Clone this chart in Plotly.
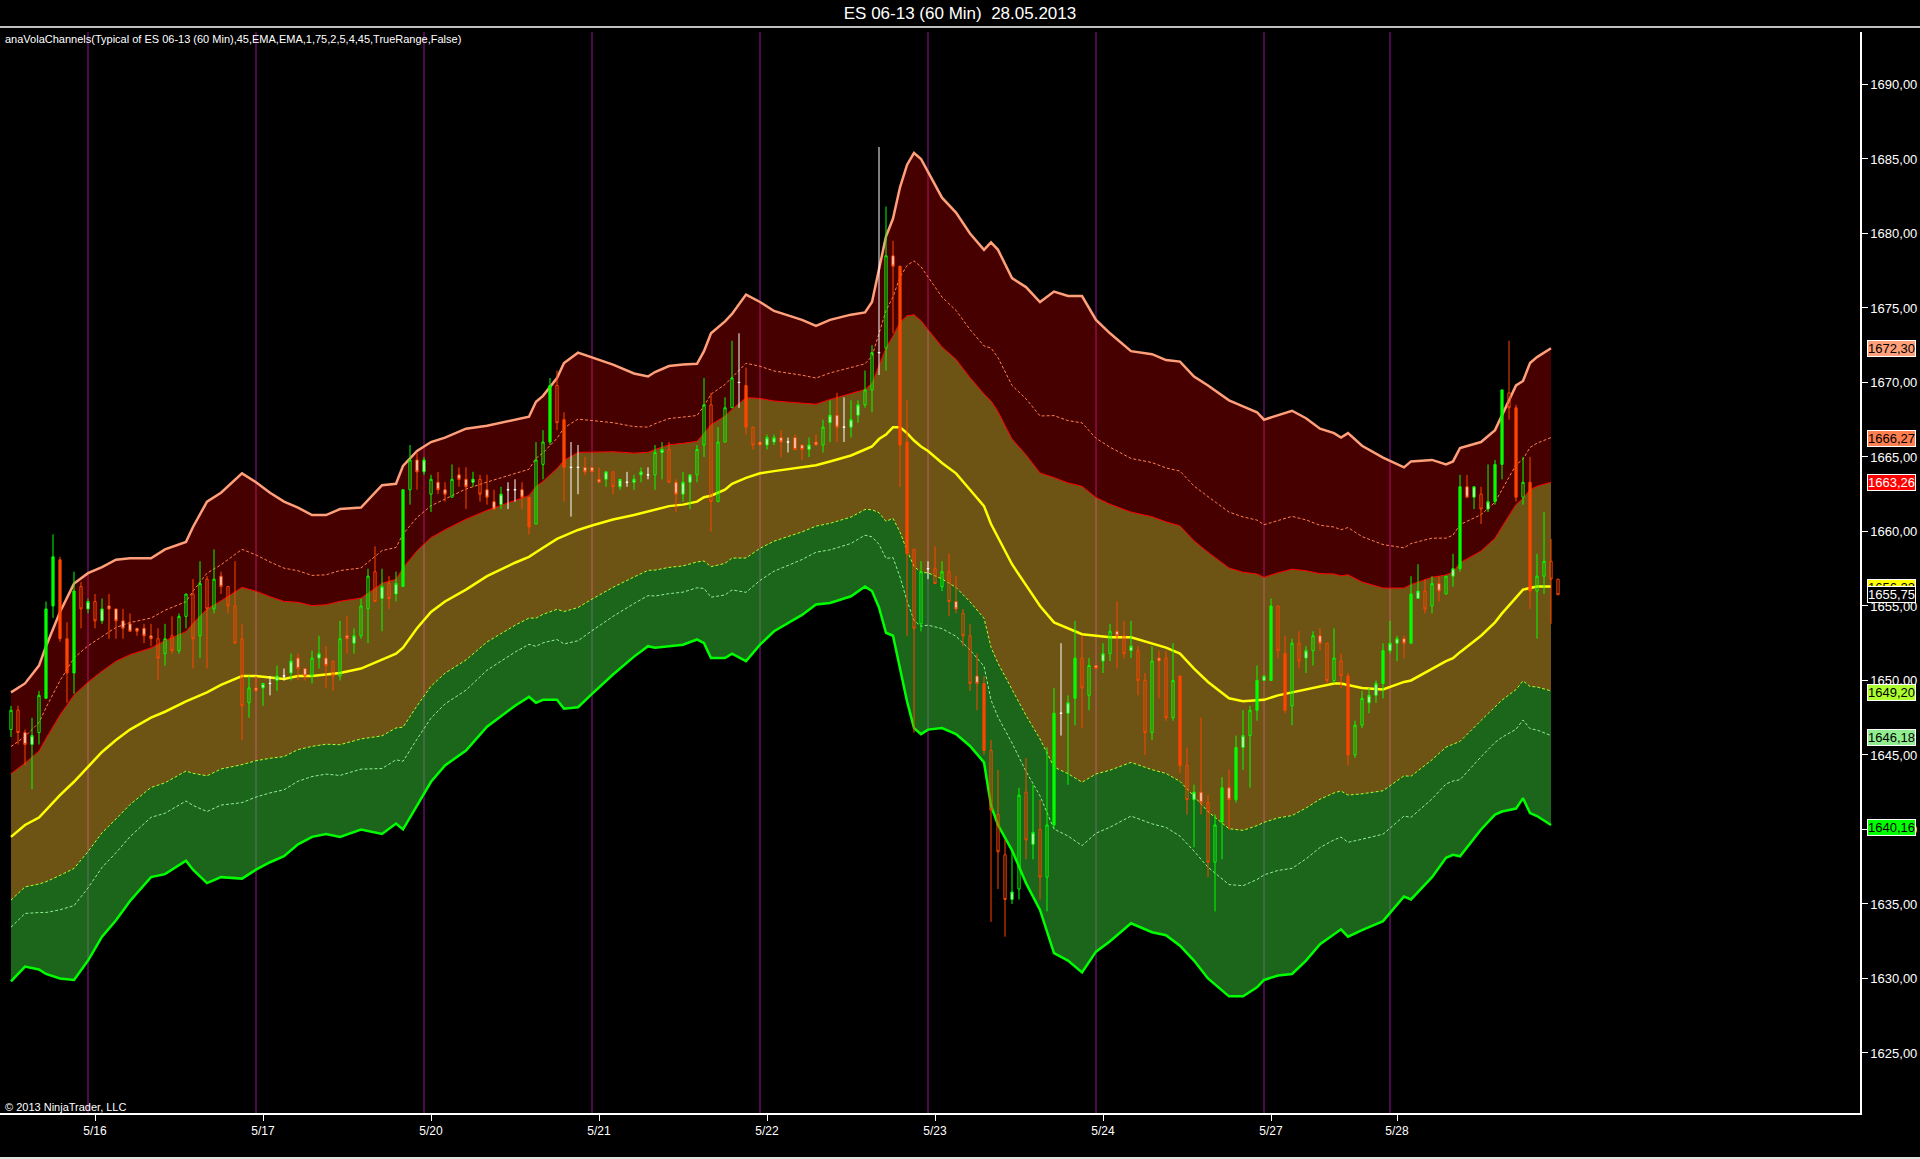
import plotly.graph_objects as go

title_text = "ES 06-13 (60 Min)  28.05.2013"
indicator_text = "anaVolaChannels(Typical of ES 06-13 (60 Min),45,EMA,EMA,1,75,2,5,4,45,TrueRange,False)"
copyright_text = "© 2013 NinjaTrader, LLC"

# hourly bars
bar_open = [1646.7, 1648.0, 1646.5, 1645.7, 1646.5, 1648.8, 1655.0, 1658.1, 1652.8, 1650.5,
            1656.3, 1654.8, 1655.3, 1654.0, 1655.0, 1654.8, 1654.0, 1653.8, 1653.5, 1653.5,
            1653.0, 1652.8, 1651.8, 1653.0, 1652.0, 1654.3, 1655.8, 1653.0, 1656.8, 1654.8,
            1657.0, 1656.3, 1655.0, 1652.8, 1648.5, 1649.5, 1649.5, 1649.8, 1650.0, 1650.3,
            1650.5, 1651.5, 1650.8, 1650.3, 1651.5, 1651.5, 1651.3, 1650.3, 1653.0, 1652.5,
            1653.0, 1654.8, 1657.3, 1655.5, 1656.5, 1655.8, 1656.3, 1662.8, 1664.8, 1664.0,
            1662.5, 1663.3, 1662.8, 1662.3, 1663.8, 1663.5, 1663.3, 1663.5, 1662.8, 1662.0,
            1661.8, 1662.8, 1662.8, 1662.8, 1662.3, 1660.5, 1664.5, 1666.0, 1669.8, 1667.5,
            1664.3, 1664.3, 1664.3, 1664.3, 1663.5, 1663.5, 1664.0, 1663.0, 1663.3, 1663.3,
            1663.8, 1663.8, 1663.8, 1665.3, 1665.5, 1663.3, 1662.5, 1663.3, 1663.8, 1665.8,
            1668.5, 1662.0, 1666.0, 1668.3, 1670.0, 1669.8, 1667.0, 1666.0, 1665.8, 1666.0,
            1666.3, 1666.0, 1666.3, 1665.8, 1665.5, 1666.0, 1665.8, 1667.3, 1667.8, 1667.0,
            1667.0, 1667.8, 1668.5, 1669.5, 1672.0, 1672.3, 1678.5, 1677.8, 1666.0, 1658.8,
            1653.8, 1657.5, 1657.5, 1656.3, 1657.3, 1655.3, 1654.5, 1653.0, 1650.3, 1649.8,
            1645.3, 1641.0, 1638.3, 1635.3, 1636.0, 1642.5, 1639.0, 1640.0, 1636.8, 1640.3,
            1647.8, 1647.8, 1648.8, 1651.5, 1649.0, 1651.0, 1651.3, 1651.8, 1653.3, 1653.0,
            1652.0, 1652.0, 1650.0, 1646.5, 1651.5, 1651.5, 1647.5, 1650.3, 1644.3, 1642.0,
            1642.5, 1641.8, 1637.8, 1640.5, 1642.8, 1642.0, 1645.5, 1646.3, 1648.0, 1650.0,
            1650.0, 1655.0, 1651.8, 1648.3, 1652.5, 1651.5, 1652.0, 1653.0, 1652.5, 1650.0,
            1651.3, 1650.3, 1645.0, 1647.0, 1648.5, 1649.0, 1649.8, 1652.0, 1652.5, 1652.8,
            1652.5, 1655.5, 1656.0, 1655.0, 1656.5, 1655.8, 1657.0, 1657.5, 1663.0, 1662.3,
            1662.5, 1661.5, 1662.0, 1664.5, 1669.3, 1668.3, 1662.3, 1663.3, 1656.0, 1657.0,
            1658.0, 1656.8]
bar_high = [1648.3, 1648.3, 1646.7, 1647.5, 1649.3, 1655.3, 1659.8, 1658.3, 1653.9, 1657.3,
            1656.6, 1655.5, 1655.8, 1655.5, 1655.8, 1654.8, 1654.8, 1654.5, 1653.5, 1653.8,
            1653.8, 1653.5, 1653.8, 1654.3, 1654.5, 1655.8, 1656.8, 1658.0, 1657.0, 1658.8,
            1657.3, 1656.3, 1658.0, 1653.8, 1650.3, 1650.3, 1649.8, 1650.3, 1651.0, 1650.8,
            1651.8, 1651.8, 1650.8, 1652.0, 1653.0, 1652.3, 1651.3, 1654.0, 1654.3, 1653.5,
            1655.5, 1657.5, 1659.0, 1657.5, 1657.0, 1657.3, 1662.8, 1665.8, 1665.3, 1665.0,
            1663.8, 1664.0, 1663.3, 1664.5, 1664.3, 1664.3, 1664.0, 1663.8, 1663.8, 1662.8,
            1663.0, 1663.3, 1663.5, 1663.3, 1662.3, 1666.0, 1666.8, 1670.3, 1670.8, 1668.0,
            1666.0, 1665.8, 1665.0, 1664.3, 1664.3, 1664.0, 1664.0, 1663.5, 1664.0, 1663.8,
            1664.3, 1664.3, 1665.8, 1666.0, 1666.0, 1663.5, 1664.0, 1663.8, 1665.8, 1670.3,
            1669.3, 1667.0, 1669.0, 1672.8, 1673.3, 1671.0, 1667.0, 1666.0, 1666.5, 1666.5,
            1666.8, 1666.3, 1666.5, 1665.8, 1666.3, 1666.5, 1667.5, 1668.8, 1669.3, 1669.0,
            1668.8, 1668.8, 1670.8, 1672.5, 1685.8, 1681.8, 1679.5, 1677.8, 1668.8, 1658.8,
            1658.0, 1658.0, 1659.0, 1658.0, 1658.5, 1657.0, 1654.8, 1653.8, 1651.8, 1650.3,
            1646.0, 1644.0, 1639.3, 1638.5, 1642.8, 1644.8, 1643.0, 1642.0, 1645.5, 1649.5,
            1652.5, 1649.0, 1654.0, 1653.0, 1651.5, 1651.0, 1652.5, 1653.8, 1655.3, 1654.0,
            1654.0, 1652.3, 1650.5, 1652.3, 1652.0, 1652.0, 1652.5, 1650.3, 1645.5, 1643.0,
            1647.5, 1642.3, 1641.0, 1643.5, 1644.0, 1646.3, 1648.0, 1648.3, 1651.0, 1650.3,
            1655.5, 1655.0, 1653.0, 1652.8, 1653.3, 1652.3, 1653.3, 1653.5, 1652.5, 1653.5,
            1651.8, 1650.5, 1647.3, 1649.3, 1649.5, 1650.0, 1652.5, 1654.0, 1653.0, 1653.0,
            1657.0, 1657.8, 1656.8, 1657.0, 1657.0, 1657.0, 1658.5, 1663.8, 1663.8, 1663.0,
            1663.0, 1664.5, 1664.8, 1669.5, 1672.8, 1668.5, 1665.0, 1665.0, 1658.5, 1661.3,
            1659.5, 1656.8]
bar_low = [1646.2, 1645.7, 1644.3, 1642.7, 1645.7, 1648.8, 1654.2, 1652.6, 1648.5, 1649.1,
           1653.5, 1654.5, 1653.5, 1653.8, 1652.8, 1652.8, 1652.8, 1653.3, 1653.0, 1652.5,
           1652.3, 1650.0, 1651.0, 1651.8, 1651.8, 1653.5, 1650.8, 1651.5, 1650.8, 1654.5,
           1655.8, 1654.5, 1652.5, 1646.0, 1647.5, 1649.3, 1648.3, 1649.0, 1649.3, 1650.0,
           1650.0, 1650.0, 1650.0, 1649.8, 1650.8, 1649.5, 1649.3, 1650.0, 1651.8, 1651.8,
           1652.8, 1652.5, 1655.3, 1653.3, 1654.8, 1655.3, 1656.3, 1661.8, 1662.8, 1663.8,
           1661.3, 1662.5, 1662.0, 1662.3, 1663.0, 1661.5, 1663.0, 1662.0, 1661.8, 1661.5,
           1661.5, 1661.5, 1662.0, 1661.5, 1659.8, 1660.5, 1663.5, 1665.8, 1666.8, 1662.0,
           1661.0, 1662.5, 1663.8, 1664.0, 1663.3, 1663.0, 1662.5, 1662.8, 1663.0, 1662.8,
           1663.3, 1663.5, 1662.8, 1663.5, 1663.3, 1661.3, 1662.0, 1661.5, 1663.3, 1665.0,
           1660.0, 1662.0, 1666.0, 1668.3, 1668.3, 1666.5, 1665.5, 1665.8, 1665.5, 1665.8,
           1665.0, 1665.3, 1665.5, 1664.8, 1665.0, 1665.8, 1665.3, 1666.0, 1666.0, 1666.0,
           1666.3, 1667.3, 1668.3, 1668.0, 1670.5, 1670.8, 1673.3, 1663.0, 1653.0, 1646.5,
           1653.3, 1656.8, 1656.5, 1656.0, 1654.3, 1654.5, 1652.3, 1649.3, 1648.0, 1645.0,
           1633.8, 1636.0, 1632.8, 1635.0, 1635.3, 1638.0, 1638.0, 1635.3, 1634.5, 1640.0,
           1646.3, 1643.0, 1647.0, 1646.8, 1648.0, 1650.8, 1650.5, 1651.3, 1650.8, 1651.5,
           1651.5, 1649.0, 1645.0, 1646.0, 1648.8, 1647.3, 1647.3, 1643.8, 1641.0, 1638.8,
           1641.0, 1636.8, 1634.5, 1638.0, 1640.0, 1641.8, 1644.0, 1642.8, 1647.3, 1650.0,
           1650.0, 1651.5, 1647.8, 1647.0, 1650.8, 1650.5, 1651.0, 1652.0, 1649.8, 1649.8,
           1649.5, 1644.3, 1644.8, 1646.8, 1647.8, 1648.5, 1648.8, 1651.8, 1651.3, 1651.5,
           1652.5, 1655.5, 1654.5, 1654.5, 1655.3, 1655.8, 1656.3, 1657.3, 1662.3, 1661.5,
           1660.5, 1661.3, 1661.8, 1663.5, 1667.5, 1662.0, 1661.8, 1654.8, 1652.8, 1655.8,
           1653.8, 1655.75]
bar_close = [1648.0, 1646.5, 1645.7, 1646.3, 1649.0, 1654.8, 1658.3, 1652.8, 1650.5, 1656.0,
             1654.8, 1655.3, 1654.0, 1654.8, 1654.8, 1654.0, 1653.5, 1653.3, 1653.3, 1653.0,
             1652.8, 1651.5, 1652.8, 1652.0, 1654.3, 1655.8, 1652.8, 1656.5, 1654.8, 1656.8,
             1656.3, 1655.0, 1652.5, 1648.3, 1649.5, 1649.3, 1649.8, 1649.8, 1650.3, 1650.3,
             1651.3, 1650.8, 1650.3, 1651.5, 1651.8, 1651.0, 1650.3, 1652.8, 1652.8, 1653.0,
             1655.0, 1657.0, 1655.3, 1656.3, 1655.5, 1656.5, 1662.8, 1664.8, 1664.0, 1664.8,
             1663.5, 1662.8, 1662.5, 1663.5, 1663.5, 1663.0, 1663.5, 1662.5, 1662.3, 1661.5,
             1662.5, 1662.8, 1662.8, 1662.3, 1660.3, 1664.8, 1666.0, 1669.8, 1667.3, 1664.3,
             1664.3, 1664.3, 1664.0, 1664.0, 1663.3, 1664.0, 1663.0, 1663.5, 1663.3, 1663.5,
             1664.0, 1663.8, 1665.3, 1665.5, 1663.3, 1662.5, 1663.3, 1663.8, 1665.5, 1668.5,
             1662.0, 1666.0, 1668.3, 1670.3, 1670.0, 1667.0, 1665.8, 1665.8, 1666.3, 1666.3,
             1666.0, 1666.0, 1665.5, 1665.5, 1665.8, 1665.8, 1667.0, 1667.8, 1667.0, 1667.0,
             1667.5, 1668.5, 1669.5, 1672.0, 1672.0, 1678.5, 1677.8, 1665.8, 1658.5, 1653.5,
             1657.3, 1657.5, 1656.5, 1657.3, 1655.3, 1654.8, 1653.0, 1649.8, 1649.8, 1645.3,
             1641.3, 1638.5, 1635.3, 1635.8, 1642.3, 1639.3, 1639.8, 1636.8, 1640.3, 1647.8,
             1647.8, 1648.5, 1651.5, 1649.5, 1651.0, 1650.8, 1651.8, 1653.3, 1653.0, 1651.8,
             1652.3, 1650.0, 1646.5, 1651.3, 1651.3, 1647.5, 1650.0, 1644.3, 1642.0, 1642.5,
             1641.8, 1637.8, 1640.3, 1642.8, 1642.0, 1645.5, 1646.3, 1648.0, 1650.0, 1650.3,
             1655.0, 1652.0, 1648.0, 1652.5, 1651.3, 1652.0, 1653.0, 1652.5, 1650.0, 1651.5,
             1650.3, 1645.0, 1647.0, 1648.8, 1649.0, 1649.8, 1652.0, 1652.5, 1652.8, 1652.5,
             1655.8, 1656.0, 1654.8, 1656.5, 1656.0, 1657.0, 1657.5, 1663.0, 1662.3, 1663.0,
             1661.5, 1662.0, 1664.5, 1669.5, 1668.3, 1662.3, 1663.3, 1656.0, 1657.0, 1658.0,
             1656.8, 1655.75]

# bars painted with a solid body
solid_bars = [5, 6, 7, 8, 9, 56, 74, 77, 79, 105, 127, 128, 139, 149, 152, 167, 173,
              175, 178, 180, 182, 191, 196, 200, 207, 212, 213, 215, 217]

# first bar of each session and its date
session_starts = [11, 35, 59, 83, 107, 131, 155, 179, 197]
session_labels = ["5/16", "5/17", "5/20", "5/21", "5/22", "5/23", "5/24", "5/27", "5/28"]

# volatility channel: outer upper line and middle line, read at these bars
band_bars = [0, 2, 4, 5, 7, 9, 11, 13, 15, 17, 20, 22, 25, 26, 28, 30, 33, 35, 37, 39,
             41, 43, 45, 47, 50, 51, 53, 55, 56, 58, 60, 62, 65, 68, 72, 74, 75, 76, 78, 79,
             81, 83, 86, 89, 91, 92, 94, 96, 98, 99, 100, 102, 103, 105, 107, 109, 113, 115, 117, 120,
             122, 123, 124, 125, 126, 127, 128, 129, 130, 131, 133, 135, 137, 139, 140, 141, 143, 145, 147, 149,
             151, 153, 155, 157, 160, 163, 165, 167, 169, 171, 174, 176, 178, 179, 181, 183, 185, 187, 189, 190,
             191, 193, 196, 199, 200, 203, 205, 206, 207, 210, 212, 213, 215, 216, 217, 218, 220]
band_top = [1649.2, 1649.8, 1651.0, 1652.3, 1654.6, 1656.5, 1657.2, 1657.6, 1658.1, 1658.2,
            1658.2, 1658.8, 1659.3, 1660.3, 1662.0, 1662.6, 1663.9, 1663.3, 1662.6, 1662.0,
            1661.6, 1661.1, 1661.1, 1661.5, 1661.6, 1662.1, 1663.1, 1663.2, 1664.4, 1665.4,
            1666.0, 1666.3, 1666.9, 1667.1, 1667.5, 1667.7, 1668.7, 1669.1, 1670.3, 1671.3,
            1672.0, 1671.7, 1671.2, 1670.6, 1670.4, 1670.7, 1671.1, 1671.2, 1671.25, 1672.1,
            1673.3, 1674.1, 1674.6, 1675.9, 1675.4, 1674.8, 1674.2, 1673.8, 1674.2, 1674.55,
            1674.7, 1675.4, 1677.5, 1679.8, 1681.0, 1683.1, 1684.6, 1685.4, 1685.0, 1684.1,
            1682.4, 1681.4, 1680.0, 1678.9, 1679.4, 1678.9, 1677.0, 1676.4, 1675.4, 1676.1,
            1675.8, 1675.8, 1674.2, 1673.3, 1672.1, 1671.9, 1671.5, 1671.4, 1670.4, 1669.8,
            1668.8, 1668.4, 1668.0, 1667.5, 1667.8, 1668.1, 1667.6, 1666.9, 1666.6, 1666.3,
            1666.6, 1665.75, 1664.95, 1664.3, 1664.7, 1664.8, 1664.5, 1664.7, 1665.6, 1666.0,
            1666.8, 1667.8, 1669.8, 1670.1, 1671.3, 1671.7, 1672.3]
band_mid = [1639.5, 1640.3, 1640.8, 1641.3, 1642.3, 1643.2, 1644.2, 1645.2, 1646.0, 1646.7,
            1647.5, 1647.9, 1648.6, 1648.8, 1649.2, 1649.7, 1650.3, 1650.3, 1650.2, 1650.1,
            1650.3, 1650.3, 1650.4, 1650.5, 1650.8, 1651.0, 1651.4, 1651.8, 1652.2, 1653.5,
            1654.6, 1655.3, 1656.1, 1657.0, 1657.9, 1658.3, 1658.6, 1658.9, 1659.5, 1659.7,
            1660.1, 1660.4, 1660.8, 1661.1, 1661.35, 1661.45, 1661.7, 1661.8, 1662.0, 1662.3,
            1662.4, 1662.8, 1663.2, 1663.6, 1663.9, 1664.05, 1664.3, 1664.45, 1664.7, 1665.1,
            1665.5, 1665.7, 1666.2, 1666.5, 1667.0, 1667.0, 1666.6, 1666.1, 1665.7, 1665.4,
            1664.6, 1663.9, 1662.8, 1661.7, 1660.5, 1659.6, 1657.8, 1656.4, 1655.0, 1653.9,
            1653.5, 1653.1, 1653.0, 1652.9, 1652.9, 1652.5, 1652.2, 1651.8, 1650.8, 1649.9,
            1648.8, 1648.6, 1648.7, 1648.7, 1649.0, 1649.2, 1649.4, 1649.6, 1649.8, 1649.8,
            1649.7, 1649.5, 1649.4, 1649.9, 1650.0, 1650.8, 1651.3, 1651.5, 1651.9, 1653.0,
            1653.9, 1654.5, 1655.6, 1656.1, 1656.2, 1656.3, 1656.3]

# channel multipliers (1,75 / 2,5 / 4) and last values shown on the price scale
mult_inner, mult_mid, mult_outer = 1.75, 2.5, 4.0
last_values = [1672.30, 1666.27, 1663.26, 1656.23, 1655.75, 1649.20, 1646.18, 1640.16]
last_colors = ["#ffa07a", "#ff7f50", "#ff0000", "#ffff00", "#000000", "#adff2f", "#90ee90", "#00ff00"]
last_text = ["black", "black", "white", "black", "white", "black", "black", "black"]

y_ticks = [1625, 1630, 1635, 1640, 1645, 1650, 1655, 1660, 1665, 1670, 1675, 1680, 1685, 1690]

X_RANGE = [-1.571, 264.14]
Y_RANGE = [1620.97, 1693.52]
FONT = "Liberation Sans, Arial, sans-serif"

unit = [(t - m) / mult_outer for t, m in zip(band_top, band_mid)]


def band(k):
    return [m + k * u for m, u in zip(band_mid, unit)]


up_out, up_mid, up_in = band(mult_outer), band(mult_mid), band(mult_inner)
dn_in, dn_mid, dn_out = band(-mult_inner), band(-mult_mid), band(-mult_outer)

fig = go.Figure()

# session separators (under the see-through channel fills)
sx, sy = [], []
for s in session_starts:
    sx += [s, s, None]
    sy += [Y_RANGE[0], Y_RANGE[1], None]
fig.add_trace(go.Scatter(x=sx, y=sy, mode="lines", line=dict(color="#4b0a4b", width=2)))

# filled channel zones
fig.add_trace(go.Scatter(x=band_bars, y=up_out, mode="lines", line=dict(width=0)))
fig.add_trace(go.Scatter(x=band_bars, y=up_in, mode="lines", line=dict(width=0),
                         fill="tonexty", fillcolor="rgba(255,0,0,0.28)"))
fig.add_trace(go.Scatter(x=band_bars, y=dn_in, mode="lines", line=dict(width=0),
                         fill="tonexty", fillcolor="rgba(234,179,43,0.47)"))
fig.add_trace(go.Scatter(x=band_bars, y=dn_out, mode="lines", line=dict(width=0),
                         fill="tonexty", fillcolor="rgba(57,217,57,0.47)"))

# channel lines
fig.add_trace(go.Scatter(x=band_bars, y=up_mid, mode="lines",
                         line=dict(color="#ff7f50", width=1, dash="3px,2px")))
fig.add_trace(go.Scatter(x=band_bars, y=up_in, mode="lines", line=dict(color="#ff0000", width=1)))
fig.add_trace(go.Scatter(x=band_bars, y=dn_in, mode="lines",
                         line=dict(color="#adff2f", width=1, dash="3px,2px")))
fig.add_trace(go.Scatter(x=band_bars, y=dn_mid, mode="lines",
                         line=dict(color="#90ee90", width=1, dash="3px,2px")))
fig.add_trace(go.Scatter(x=band_bars, y=up_out, mode="lines", line=dict(color="#ffa07a", width=2.5)))
fig.add_trace(go.Scatter(x=band_bars, y=dn_out, mode="lines", line=dict(color="#00ff00", width=2.5)))
fig.add_trace(go.Scatter(x=band_bars, y=band_mid, mode="lines", line=dict(color="#ffff00", width=2.5)))

# little pointers of the price scale markers
fig.add_trace(go.Scatter(x=[264.75] * len(last_values), y=last_values, mode="markers",
                         marker=dict(symbol="triangle-left", size=9, color=last_colors,
                                     line=dict(color="white", width=1)),
                         cliponaxis=False))

# candles on an overlay axis so they sit above the filled channel
bars = list(range(len(bar_open)))
doji = [i for i in bars if bar_open[i] == bar_close[i]]
plain = [i for i in bars if i not in doji and i not in solid_bars]
small = [i for i in plain if abs(bar_close[i] - bar_open[i]) < 0.9]
hollow = [i for i in plain if i not in small]
solid = [i for i in solid_bars if i not in doji]


def add_candles(idx, up_line, up_fill, dn_line, dn_fill):
    fig.add_trace(go.Candlestick(
        x=idx,
        open=[bar_open[i] for i in idx], high=[bar_high[i] for i in idx],
        low=[bar_low[i] for i in idx], close=[bar_close[i] for i in idx],
        increasing=dict(line=dict(color=up_line, width=1), fillcolor=up_fill),
        decreasing=dict(line=dict(color=dn_line, width=1), fillcolor=dn_fill),
        xaxis="x2", yaxis="y2", hoverinfo="skip"))


clear = "rgba(0,0,0,0)"
add_candles(small, "#00ff00", "#ffffff", "#ff4500", "#ffffff")
add_candles(hollow, "#00ff00", clear, "#ff4500", clear)
add_candles(solid, "#00ff00", "#00ff00", "#ff4500", "#ff4500")
add_candles(doji, "#ffffff", "#ffffff", "#ffffff", "#ffffff")

annotations = [
    dict(text=indicator_text, xref="paper", yref="paper", x=0.0016, y=0.9935,
         xanchor="left", yanchor="middle", showarrow=False,
         font=dict(family=FONT, size=11, color="white")),
    dict(text=copyright_text, xref="paper", yref="paper", x=0.0016, y=0.0055,
         xanchor="left", yanchor="middle", showarrow=False,
         font=dict(family=FONT, size=11, color="white")),
]
for v, c, tc in zip(last_values, last_colors, last_text):
    annotations.append(dict(
        text=f"{v:.2f}".replace(".", ","), xref="paper", yref="y", x=1867 / 1860, y=v,
        xanchor="left", yanchor="middle", showarrow=False, bgcolor=c,
        bordercolor="white", borderwidth=1, borderpad=0,
        font=dict(family=FONT, size=13, color=tc)))

fig.update_layout(
    width=1920, height=1159,
    paper_bgcolor="black", plot_bgcolor="black",
    margin=dict(l=0, r=60, t=32, b=46),
    showlegend=False, hovermode=False,
    separators=",.",
    boxgap=0.55,
    font=dict(family=FONT, color="white"),
    title=dict(text=title_text, x=0.5, xanchor="center", y=1 - 13 / 1159, yanchor="middle",
               font=dict(family=FONT, size=17, color="white")),
    xaxis=dict(range=X_RANGE, showgrid=False, zeroline=False, showline=True,
               linecolor="white", linewidth=1.5, ticks="outside", ticklen=6, tickcolor="white",
               tickvals=[s + 1 for s in session_starts], ticktext=session_labels,
               tickfont=dict(family=FONT, size=12, color="white"),
               rangeslider=dict(visible=False)),
    yaxis=dict(range=Y_RANGE, side="right", showgrid=False, zeroline=False, showline=True,
               linecolor="white", linewidth=1.5, ticks="outside", ticklen=6, tickcolor="white",
               tickvals=y_ticks, tickformat=".2f",
               tickfont=dict(family=FONT, size=13, color="white")),
    xaxis2=dict(range=X_RANGE, overlaying="x", anchor="y2", visible=False,
                rangeslider=dict(visible=False)),
    yaxis2=dict(range=Y_RANGE, overlaying="y", anchor="x2", visible=False),
    annotations=annotations,
    shapes=[
        dict(type="line", xref="paper", yref="paper", x0=0, x1=1920 / 1860,
             y0=(1113 - 27) / 1081, y1=(1113 - 27) / 1081, line=dict(color="white", width=1.5)),
        dict(type="line", xref="paper", yref="paper", x0=0, x1=1920 / 1860,
             y0=(1113 - 1158) / 1081, y1=(1113 - 1158) / 1081, line=dict(color="#e0e0e0", width=2)),
    ],
)

fig.write_html("out.html", config={"displayModeBar": False},
               post_script="document.body.style.margin='0';document.body.style.overflow='hidden';")
